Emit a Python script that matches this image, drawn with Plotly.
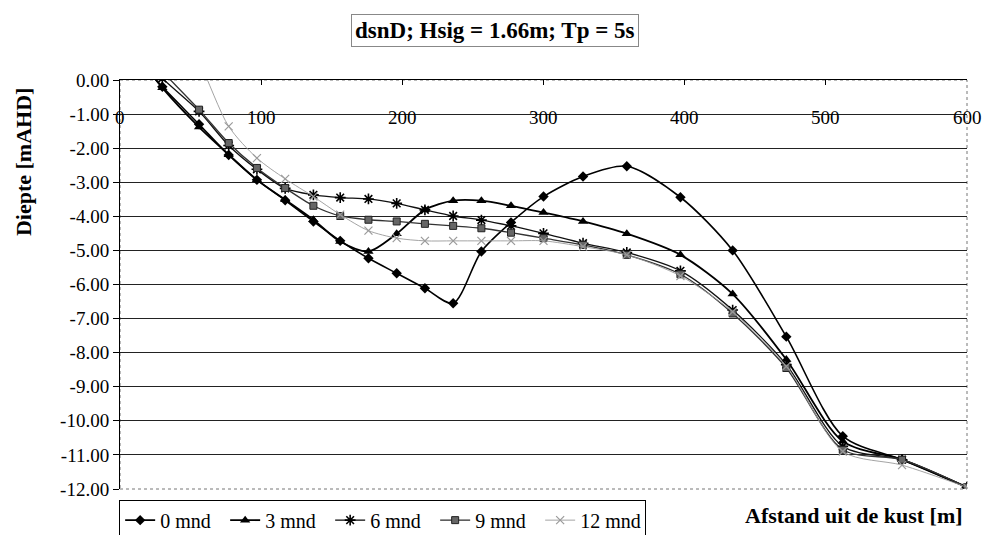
import plotly.graph_objects as go

# ---- data ----
X = [20, 30, 56, 77, 97, 117, 137, 156, 176, 196, 216, 236, 256, 277, 300,
     328, 359, 397, 434, 472, 512, 554, 600]

mnd0 = [0.25, -0.2, -1.3, -2.2, -2.93, -3.53, -4.15, -4.72, -5.23, -5.67, -6.11,
        -6.55, -5.03, -4.18, -3.42, -2.83, -2.53, -3.44, -5.0, -7.53, -10.45,
        -11.14, -11.95]
mnd3 = [0.3, -0.23, -1.38, -2.19, -2.93, -3.51, -4.1, -4.74, -5.03, -4.51, -3.81,
        -3.54, -3.54, -3.69, -3.89, -4.15, -4.51, -5.13, -6.28, -8.2, -10.6,
        -11.14, -11.95]
mnd6 = [0.5, 0.05, -0.92, -1.92, -2.62, -3.18, -3.37, -3.45, -3.49, -3.62, -3.81,
        -3.99, -4.11, -4.28, -4.5, -4.79, -5.06, -5.6, -6.75, -8.35, -10.75,
        -11.14, -11.95]
mnd9 = [0.7, 0.25, -0.87, -1.85, -2.58, -3.17, -3.69, -3.99, -4.1, -4.15, -4.22,
        -4.28, -4.35, -4.48, -4.64, -4.84, -5.13, -5.7, -6.85, -8.45, -10.85,
        -11.14, -11.95]
mnd12 = [3.2, 2.5, 0.55, -1.36, -2.29, -2.9, -3.42, -3.95, -4.42, -4.64, -4.72,
         -4.72, -4.72, -4.72, -4.72, -4.89, -5.13, -5.75, -6.8, -8.4, -10.9,
         -11.3, -11.95]

series_names = ["0 mnd", "3 mnd", "6 mnd", "9 mnd", "12 mnd"]

X_TICKS = [0, 100, 200, 300, 400, 500, 600]
X_TICK_LABELS = ["0", "100", "200", "300", "400", "500", "600"]
Y_TICKS = [0, -1, -2, -3, -4, -5, -6, -7, -8, -9, -10, -11, -12]
Y_TICK_LABELS = ["0.00", "-1.00", "-2.00", "-3.00", "-4.00", "-5.00", "-6.00",
                 "-7.00", "-8.00", "-9.00", "-10.00", "-11.00", "-12.00"]

TITLE = "dsnD; Hsig = 1.66m; Tp = 5s"
Y_TITLE = "Diepte [mAHD]"
X_TITLE = "Afstand uit de kust [m]"

FONT = "Liberation Serif"

styles = [
    dict(line=dict(color="#000000", width=1.6),
         marker=dict(symbol="diamond", size=8, color="#000000")),
    dict(line=dict(color="#000000", width=1.8),
         marker=dict(symbol="triangle-up", size=9, color="#000000")),
    dict(line=dict(color="#111111", width=1.3),
         marker=dict(symbol="asterisk-open", size=9, color="#000000",
                     line=dict(color="#000000", width=1.6))),
    dict(line=dict(color="#333333", width=1.3),
         marker=dict(symbol="square", size=7, color="#666666",
                     line=dict(color="#222222", width=1))),
    dict(line=dict(color="#9a9a9a", width=0.9),
         marker=dict(symbol="x-thin-open", size=8, color="#9a9a9a",
                     line=dict(color="#9a9a9a", width=1.2))),
]

fig = go.Figure()
for name, ys, st in zip(series_names, [mnd0, mnd3, mnd6, mnd9, mnd12], styles):
    line = dict(st["line"])
    line.update(shape="spline", smoothing=0.8)
    fig.add_trace(go.Scatter(x=X, y=ys, mode="lines+markers", name=name,
                             line=line, marker=st["marker"]))

annotations = []
for xv, lab in zip(X_TICKS, X_TICK_LABELS):
    annotations.append(dict(x=xv, y=-1.1, xref="x", yref="y", text=lab,
                            showarrow=False, font=dict(family=FONT, size=19, color="#000"),
                            xanchor="center", yanchor="middle"))

annotations.append(dict(x=0.443, y=1.12, xref="paper", yref="paper",
                        text="<b>" + TITLE + "</b>", showarrow=False,
                        font=dict(family=FONT, size=23, color="#000"),
                        bordercolor="#888888", borderwidth=1, borderpad=3,
                        bgcolor="white", xanchor="center", yanchor="middle"))
annotations.append(dict(x=-0.113, y=0.80, xref="paper", yref="paper",
                        text="<b>" + Y_TITLE + "</b>", showarrow=False, textangle=-90,
                        font=dict(family=FONT, size=22, color="#000"),
                        xanchor="center", yanchor="middle"))
annotations.append(dict(x=0.867, y=-0.064, xref="paper", yref="paper",
                        text="<b>" + X_TITLE + "</b>", showarrow=False,
                        font=dict(family=FONT, size=22, color="#000"),
                        xanchor="center", yanchor="middle"))

fig.update_layout(
    width=989, height=535,
    margin=dict(l=120, r=22, t=80, b=46, autoexpand=False),
    plot_bgcolor="white", paper_bgcolor="white",
    font=dict(family=FONT, size=18, color="#000"),
    showlegend=True,
    legend=dict(orientation="h", x=-0.001, xanchor="left", y=-0.026, yanchor="top",
                bordercolor="#000", borderwidth=1, bgcolor="white",
                font=dict(family=FONT, size=20, color="#000"),
                itemwidth=30, tracegroupgap=0, entrywidth=60,
                entrywidthmode="pixels"),
    annotations=annotations,
    shapes=[dict(type="rect", xref="paper", yref="paper", x0=0, x1=1, y0=0, y1=1,
                 line=dict(color="#777777", width=1, dash="dot"), layer="below")],
)
fig.update_xaxes(range=[0, 600], side="top", showline=True, linecolor="#000",
                 linewidth=1, ticks="inside", ticklen=5, tickcolor="#000",
                 tickvals=X_TICKS, showticklabels=False, showgrid=False,
                 zeroline=False)
fig.update_yaxes(range=[-12, 0], showline=True, linecolor="#000", linewidth=1,
                 ticks="outside", ticklen=6, tickcolor="#000",
                 tickvals=Y_TICKS, ticktext=Y_TICK_LABELS, showgrid=True,
                 gridcolor="#222222", gridwidth=1, zeroline=False,
                 tickfont=dict(family=FONT, size=19, color="#000"))

fig.write_html("out.html")
